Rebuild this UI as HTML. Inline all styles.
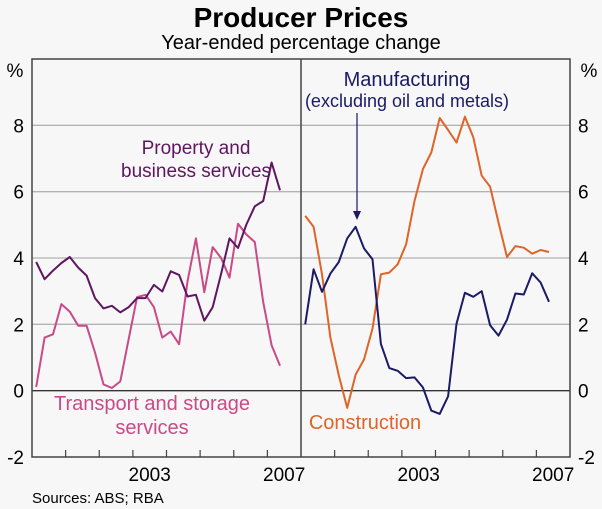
<!DOCTYPE html>
<html><head><meta charset="utf-8"><style>
html,body{margin:0;padding:0;background:#f7f7f7;}
svg{display:block;font-family:"Liberation Sans",Arial,sans-serif;}
</style></head><body>
<svg id="chart" width="602" height="509" viewBox="0 0 602 509">
<rect x="0" y="0" width="602" height="509" fill="#f7f7f7"/>
<text x="301" y="27" text-anchor="middle" font-size="28" font-weight="bold" fill="#000">Producer Prices</text>
<text x="301" y="49" text-anchor="middle" font-size="20" fill="#000">Year-ended percentage change</text>
<g id="grid"></g>
<g id="axes"></g>
<g id="series"></g>
<text x="196" y="154" text-anchor="middle" font-size="19" fill="#5e1660">Property and</text>
<text x="196" y="177" text-anchor="middle" font-size="19" fill="#5e1660">business services</text>
<text x="152" y="410" text-anchor="middle" font-size="20" fill="#c94a87">Transport and storage</text>
<text x="152" y="434" text-anchor="middle" font-size="20" fill="#c94a87">services</text>
<text x="365" y="429" text-anchor="middle" font-size="20" fill="#de6428">Construction</text>
<text x="407" y="86" text-anchor="middle" font-size="20" fill="#1a1a66">Manufacturing</text>
<text x="407" y="107" text-anchor="middle" font-size="18" fill="#1a1a66">(excluding oil and metals)</text>
<line x1="357" y1="113" x2="357" y2="212" stroke="#1a1a66" stroke-width="1.2"/>
<polygon points="353,211 361,211 357,220" fill="#1a1a66"/>
<text x="32" y="503" font-size="15" fill="#000">Sources: ABS; RBA</text>
</svg>
<script>
const yTicks=[-2,0,2,4,6,8];
const yearLabels=[2000,2001,2002,2003,2004,2005,2006,2007];
const shownYears=[2003,2007];
const property=[3.88,3.36,3.62,3.85,4.03,3.71,3.47,2.79,2.48,2.56,2.36,2.52,2.79,2.79,3.19,2.99,3.6,3.49,2.84,2.89,2.11,2.52,3.52,4.59,4.3,5.01,5.56,5.72,6.88,6.04];
const transport=[0.11,1.6,1.7,2.61,2.38,1.96,1.96,1.15,0.19,0.08,0.28,1.56,2.82,2.89,2.52,1.6,1.78,1.4,3.29,4.59,2.97,4.33,4.0,3.41,5.03,4.71,4.48,2.67,1.37,0.75];
const manufacturing=[2.0,3.66,2.98,3.53,3.88,4.59,4.94,4.29,3.96,1.41,0.68,0.6,0.38,0.4,0.1,-0.6,-0.7,-0.17,2.02,2.95,2.83,3.0,1.97,1.66,2.14,2.93,2.9,3.54,3.26,2.68];
const construction=[5.27,4.94,3.51,1.6,0.46,-0.52,0.48,0.94,1.87,3.51,3.56,3.81,4.41,5.72,6.68,7.18,8.22,7.86,7.48,8.26,7.64,6.48,6.15,5.07,4.03,4.36,4.31,4.13,4.24,4.18];

const NS='http://www.w3.org/2000/svg';
const L=32,M=301,R=570,T=59,B=457,YMIN=-2,YMAX=10;
const qw=(M-L)/32;
function y(v){return B-(v-YMIN)/(YMAX-YMIN)*(B-T);}
function x(panelLeft,i){return panelLeft+(i+0.5)*qw;}
function mk(tag,attrs,parent){const e=document.createElementNS(NS,tag);for(const k in attrs)e.setAttribute(k,attrs[k]);parent.appendChild(e);return e;}
const grid=document.getElementById('grid'),axes=document.getElementById('axes'),ser=document.getElementById('series');
yTicks.forEach(v=>{
  if(v>YMIN&&v!==0){const g=mk('line',{x1:L,x2:R,y1:y(v),y2:y(v),stroke:'#b3b3b3','stroke-width':1.3},grid);
  
  }
  const a=mk('text',{x:24,y:y(v)+7,'text-anchor':'end','font-size':19},axes);a.textContent=v;
  
  
  const b=mk('text',{x:578,y:y(v)+7,'text-anchor':'start','font-size':19},axes);b.textContent=v;
  
  
});
['left','right'].forEach((s,k)=>{const p=mk('text',{x:k?589:15,y:77,'text-anchor':'middle','font-size':19},axes);p.textContent='%';
  
  });
const z=mk('line',{x1:L,x2:R,y1:y(0),y2:y(0),stroke:'#333','stroke-width':1.3},axes);


const fr=mk('rect',{x:L,y:T,width:R-L,height:B-T,fill:'none',stroke:'#444','stroke-width':1.5},axes);


const dv=mk('line',{x1:M,x2:M,y1:T,y2:B,stroke:'#444','stroke-width':1.5},axes);


[L,M].forEach(pl=>{
  yearLabels.forEach((yr,j)=>{
    if(j>0){const t=mk('line',{x1:pl+j*4*qw,x2:pl+j*4*qw,y1:B,y2:B-7,stroke:'#444','stroke-width':1.2},axes);
    
    }
    if(shownYears.includes(yr)){const tx=mk('text',{x:pl+(j+0.5)*4*qw,y:B+24,'text-anchor':'middle','font-size':19},axes);tx.textContent=yr;
    
    }
  });
});
function line(data,pl,color,name){
  const d=data.map((v,i)=>(i?'L':'M')+x(pl,i).toFixed(1)+' '+y(v).toFixed(1)).join(' ');
  const p=mk('path',{d:d,fill:'none',stroke:color,'stroke-width':2,'stroke-linejoin':'round'},ser);
  
  
}
line(transport,L,'#c94a87','transport-line');
line(property,L,'#5e1660','property-line');
line(construction,M,'#de6428','construction-line');
line(manufacturing,M,'#1a1a66','manufacturing-line');
</script>
</body></html>
